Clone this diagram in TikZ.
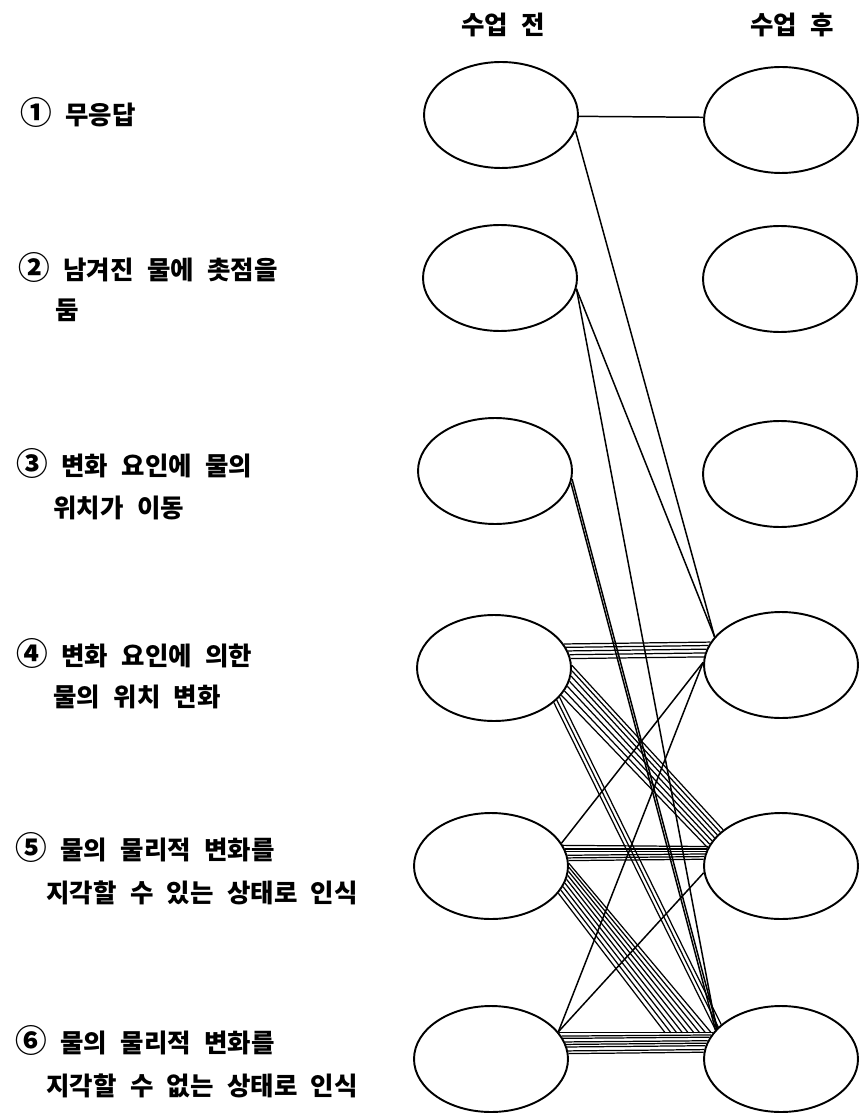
\documentclass[tikz,border=0pt]{standalone}
\usepackage{fontspec}
\newfontfamily\kr{Noto Sans CJK KR}[WordSpace=2.3]
\usetikzlibrary{shapes.geometric,calc}
\newcommand\cnum[1]{{\fontsize{18}{18}\selectfont #1}}

\begin{document}
\begin{tikzpicture}[x=0.02cm, y=-0.02cm,
    oval/.style={draw, ellipse, line width=1.1pt, minimum width=3.08cm, minimum height=2.12cm, inner sep=0pt},
    lbl/.style={anchor=west, inner sep=0pt, font=\kr\bfseries\fontsize{14.5}{16}\selectfont},
    link/.style={line width=0.85pt},
    strand/.style={line width=0.7pt},
]
    \useasboundingbox (0,0) rectangle (859,1114);

    % Column heads
    \node[lbl, anchor=center] (headpre) at (503,25) {수업 전};
    \node[lbl, anchor=center] (headpost) at (792,25) {수업 후};

    % Answer types
    \node[lbl] (txt1) at (20,112) {\cnum{①} 무응답};
    \node[lbl] (txt2) at (18,267) {\cnum{②} 남겨진 물에 촛점을};
    \node[lbl] (txt2b) at (55,310) {둠};
    \node[lbl] (txt3) at (16,463) {\cnum{③} 변화 요인에 물의};
    \node[lbl] (txt3b) at (53,508) {위치가 이동};
    \node[lbl] (txt4) at (16,653) {\cnum{④} 변화 요인에 의한};
    \node[lbl] (txt4b) at (53,697) {물의 위치 변화};
    \node[lbl] (txt5) at (15,847) {\cnum{⑤} 물의 물리적 변화를};
    \node[lbl] (txt5b) at (46,893) {지각할 수 있는 상태로 인식};
    \node[lbl] (txt6) at (15,1040) {\cnum{⑥} 물의 물리적 변화를};
    \node[lbl] (txt6b) at (46,1086) {지각할 수 없는 상태로 인식};

    % Before class
    \node[oval] (pre1) at (501,115) {};
    \node[oval] (pre2) at (500,278) {};
    \node[oval] (pre3) at (495,471) {};
    \node[oval] (pre4) at (494,668) {};
    \node[oval] (pre5) at (491,866) {};
    \node[oval] (pre6) at (491,1059) {};

    % After class
    \node[oval] (post1) at (781,120) {};
    \node[oval] (post2) at (780,279) {};
    \node[oval] (post3) at (780,474) {};
    \node[oval] (post4) at (781,665) {};
    \node[oval] (post5) at (781,866) {};
    \node[oval] (post6) at (781,1059) {};

    % Single changes
    \draw[link] (pre1.-1) -- (post1.178);
    \draw[link] (pre1.-12) -- (post4.157);
    \draw[link] (pre2.-8) -- (post4.157);
    \draw[link] (pre2.-8) -- (post6.155);
    \draw[link] (pre3.-6) -- (post6.154);
    \draw[link] (pre3.-9) -- (post6.156);
    \draw[link] (pre5.18) -- (post4.178);
    \draw[link] (pre6.22) -- (post4.178);
    \draw[link] (pre6.22) -- (post5.185);

    % Groups of students
    \foreach \k [evaluate=\k as \sa using int(19-3*\k), evaluate=\k as \sb using int(162+3*\k)] in {0,...,4}
        \draw[strand] (pre4.\sa) -- (post4.\sb);
    \foreach \k [evaluate=\k as \sa using int(2-4*\k), evaluate=\k as \sb using int(148+3*\k)] in {0,...,6}
        \draw[strand] (pre4.\sa) -- (post5.\sb);
    \foreach \k [evaluate=\k as \sa using int(-24-3*\k), evaluate=\k as \sb using int(150+3*\k)] in {0,...,2}
        \draw[strand] (pre4.\sa) -- (post6.\sb);
    \foreach \k [evaluate=\k as \sa using int(16-2.4*\k), evaluate=\k as \sb using int(165+2*\k)] in {0,...,5}
        \draw[strand] (pre5.\sa) -- (post5.\sb);
    \foreach \k [evaluate=\k as \sa using int(2-3*\k), evaluate=\k as \sp using 0.99-0.0375*\k] in {0,...,8}
        \draw[strand] (pre5.\sa) -- ($(pre6.21)!\sp!(post6.159)$);
    \foreach \k [evaluate=\k as \sa using int(21-2.4*\k), evaluate=\k as \sb using int(159+2.4*\k)] in {0,...,7}
        \draw[strand] (pre6.\sa) -- (post6.\sb);
\end{tikzpicture}
\end{document}
